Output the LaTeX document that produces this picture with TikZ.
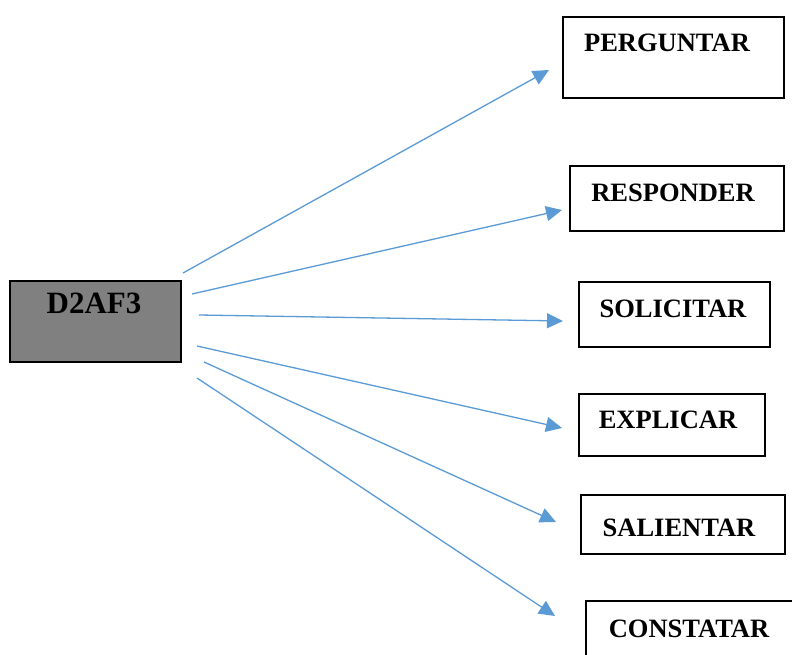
\documentclass[tikz,border=0pt]{standalone}
\usepackage{fontspec}
\setmainfont{Liberation Serif}
\usetikzlibrary{arrows.meta}
\definecolor{arrowblue}{HTML}{5B9BD5}
\definecolor{boxgray}{HTML}{808080}
\tikzset{
  box/.style={draw=black, line width=1.8pt, fill=white, inner sep=0pt, anchor=north west},
  lbl/.style={font=\fontsize{26.5}{28}\selectfont\bfseries, inner sep=0pt, anchor=base},
  conn/.style={draw=arrowblue, line width=1.3pt, -{Triangle[length=16pt,width=15pt]}}
}
\begin{document}
\begin{tikzpicture}[x=1pt,y=-1pt]
\useasboundingbox (0,0) rectangle (792,655);
\clip (0,0) rectangle (792,655);
\fill[white] (0,0) rectangle (792,655);
% source box
\node[box, fill=boxgray, line width=2.2pt, minimum width=171pt, minimum height=81pt] (src) at (9,280) {};
\node[lbl, font=\fontsize{31}{33}\selectfont\bfseries] (srct) at (94,313) {D2AF3};
% target boxes
\node[box, minimum width=221pt, minimum height=81pt] (b1) at (562,16) {};
\node[lbl] (t1) at (667,52) {PERGUNTAR};
\node[box, minimum width=214pt, minimum height=65pt] (b2) at (569,165) {};
\node[lbl] (t2) at (673,202) {RESPONDER};
\node[box, minimum width=191pt, minimum height=65pt] (b3) at (578,281) {};
\node[lbl] (t3) at (673,317) {SOLICITAR};
\node[box, minimum width=186pt, minimum height=62pt] (b4) at (578,393) {};
\node[lbl] (t4) at (668,428) {EXPLICAR};
\node[box, minimum width=204pt, minimum height=59pt] (b5) at (580,494) {};
\node[lbl] (t5) at (679,536) {SALIENTAR};
\node[box, minimum width=230pt, minimum height=80pt] (b6) at (585,600) {};
\node[lbl] (t6) at (689,637) {CONSTATAR};
% connector endpoints
\coordinate (s1) at (183,273); \coordinate (e1) at (549,70);
\coordinate (s2) at (192,294); \coordinate (e2) at (562,210);
\coordinate (s3) at (199,315); \coordinate (e3) at (563,321);
\coordinate (s4) at (197,346); \coordinate (e4) at (562,428);
\coordinate (s5) at (204,362); \coordinate (e5) at (556,522);
\coordinate (s6) at (197,378); \coordinate (e6) at (555,616);
\draw[conn] (s1) -- (e1);
\draw[conn] (s2) -- (e2);
\draw[conn] (s3) -- (e3);
\draw[conn] (s4) -- (e4);
\draw[conn] (s5) -- (e5);
\draw[conn] (s6) -- (e6);
\end{tikzpicture}
\end{document}
